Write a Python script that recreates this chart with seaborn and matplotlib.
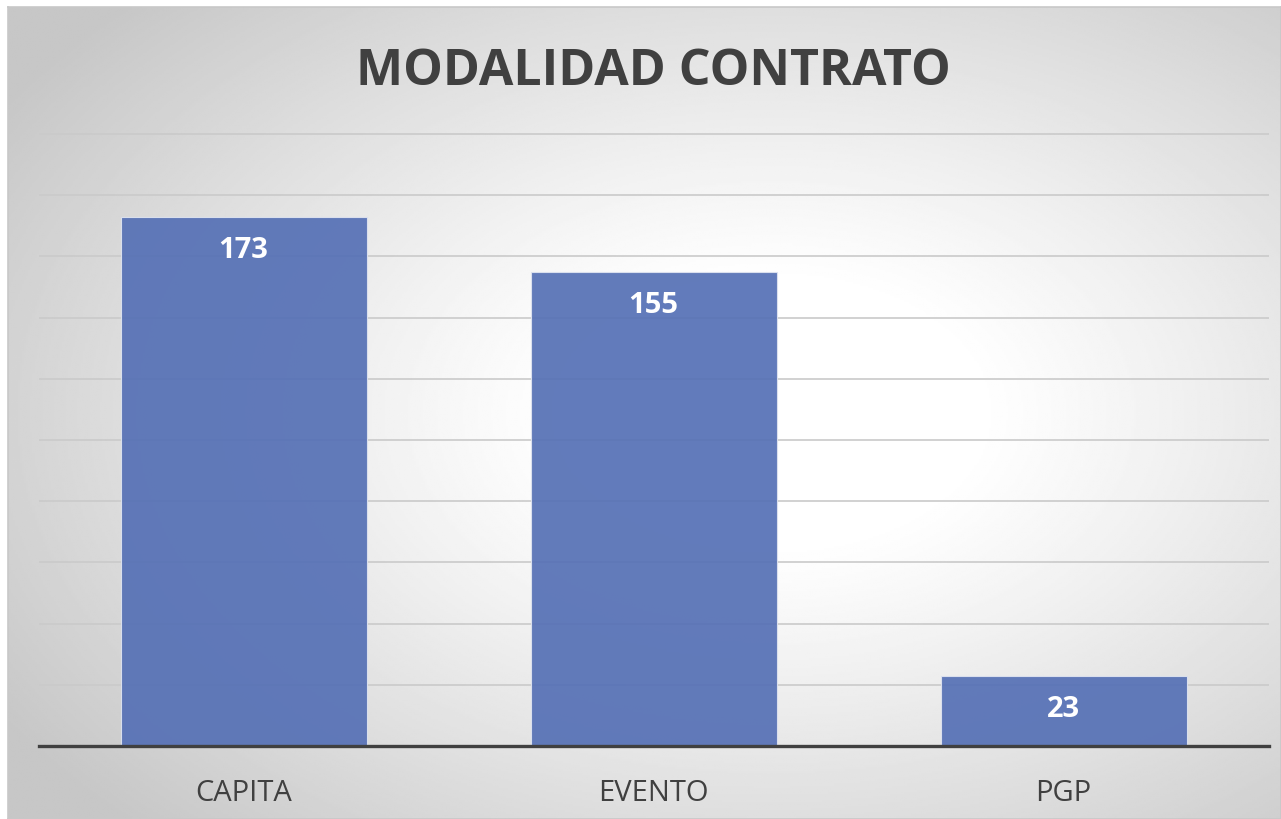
import numpy as np
import pandas as pd
import seaborn as sns
import matplotlib.pyplot as plt

categorias = ['CAPITA', 'EVENTO', 'PGP']
valores = [173, 155, 23]

df = pd.DataFrame({'modalidad': categorias, 'cantidad': valores})

sns.set_theme(style='white')
plt.rcParams['font.family'] = ['Open Sans', 'DejaVu Sans']

W, H = 1281, 819
fig = plt.figure(figsize=(W / 100, H / 100), dpi=100)
fig.patch.set_facecolor('white')

# fondo con degradado radial
bg = fig.add_axes([8 / W, 0, (W - 8) / W, (H - 7) / H])
yy, xx = np.mgrid[0:1:400j, 0:1:600j]
r = np.sqrt(((xx - 0.6) / 0.8) ** 2 + ((yy - 0.5) / 0.8) ** 2)
g = np.clip(1.0 - 0.33 * np.clip(r - 0.2, 0, None) ** 1.1, 0.78, 1.0)
bg.imshow(g, cmap='gray', vmin=0, vmax=1, aspect='auto', extent=[0, 1, 0, 1])
bg.set_xticks([])
bg.set_yticks([])
for s in bg.spines.values():
    s.set_color('#c8c8c8')
    s.set_linewidth(1.2)

px = 3.06
ytop = 201
ax = fig.add_axes([38.5 / W, 73 / H, 1230 / W, ytop * px / H])
ax.patch.set_alpha(0)
sns.barplot(data=df, x='modalidad', y='cantidad', ax=ax, color='#5570b5',
            saturation=1, width=0.6, alpha=0.92, edgecolor='#dfe4f0',
            linewidth=0.8, zorder=3)
ax.set_ylim(0, ytop)
ax.set_xlim(-0.5, 2.5)
ax.set_yticks(range(0, 201, 20))
ax.yaxis.grid(True, color='#cacaca', linewidth=1.2, zorder=0)
ax.set_axisbelow(True)
ax.set_yticklabels([])
ax.tick_params(axis='y', length=0)
ax.tick_params(axis='x', length=0, labelsize=21, labelcolor='#404040', pad=24)
for s in ['top', 'right', 'left']:
    ax.spines[s].set_visible(False)
ax.spines['bottom'].set_color('#404040')
ax.spines['bottom'].set_linewidth(2.4)
ax.spines['bottom'].set_zorder(4)
ax.set_xlabel('')
ax.set_ylabel('')

for i, v in enumerate(valores):
    ax.text(i, v - 34 / px, str(v), ha='center', va='center', color='white',
            fontsize=21, fontweight='bold', zorder=5)

fig.text(653 / W, 1 - 72 / H, 'MODALIDAD CONTRATO', ha='center', va='center',
         fontsize=36, fontweight='bold', color='#404040')

fig.savefig('out.png', dpi=100)
